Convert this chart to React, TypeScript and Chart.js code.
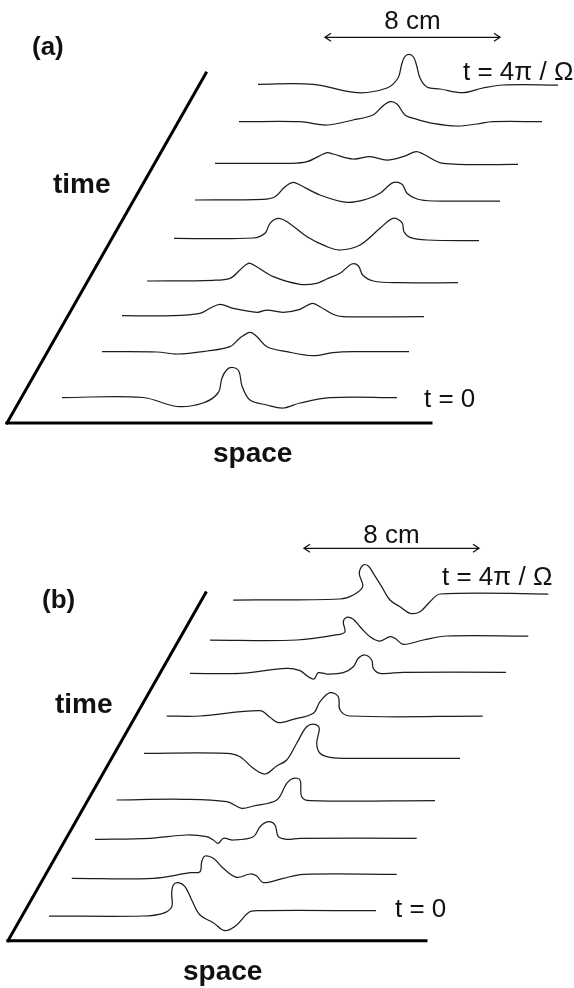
import React, { useEffect, useRef } from "react";
import { Chart, registerables } from "chart.js";

Chart.register(...registerables);

type P = [number, number];

// ---------- Panel (a): wave profiles, [space, height] (height axis points down), t = 0 at bottom ----------
const aProfile1: P[] = [[62, 397.5], [143, 397.5], [177, 406.5], [203, 403], [218, 393], [222, 378], [227, 369.5], [233, 367.5], [239, 371.5], [242, 386], [250, 400], [267, 405], [283, 408], [300, 403], [330, 397.7], [397, 397.7]];
const aProfile2: P[] = [[102, 351.7], [157, 352], [177, 354], [207, 351], [230, 346.7], [240, 338], [250, 332.3], [257, 336.7], [267, 346.7], [287, 351.7], [313, 355.7], [333, 352.7], [353, 351.7], [409, 351.7]];
const aProfile3: P[] = [[122, 315.7], [173, 315.7], [200, 313.3], [210, 308.3], [220, 304.3], [233, 308.3], [257, 312.3], [267, 310], [283, 312.3], [300, 309.3], [312, 303.3], [320, 306.7], [333, 314.3], [343, 316.7], [424, 316.7]];
const aProfile4: P[] = [[147, 281], [213, 280.3], [230, 278.3], [240, 270], [248.3, 263.3], [255, 265.7], [273.3, 276.7], [300, 284.3], [316.7, 283.3], [326.7, 279], [340, 273.3], [351.7, 264], [358.3, 265.7], [362.7, 275], [373.3, 281], [400, 282.7], [458, 282.7]];
const aProfile5: P[] = [[174, 238.3], [253, 238], [265, 233.3], [270, 223.3], [278, 218.3], [287, 221.7], [307, 236.7], [327, 246.7], [340, 250], [360, 245], [380, 228.3], [393, 218.3], [402, 222.7], [404, 231.7], [410, 237.3], [427, 240], [479, 240.7]];
const aProfile6: P[] = [[195, 200], [263, 199.3], [275, 196.7], [285, 186.7], [293, 182.3], [300, 185], [320, 195], [347, 202.3], [367, 199], [380, 193.3], [393, 182.7], [402, 184.3], [407, 193.3], [417, 199], [433, 201], [500, 201]];
const aProfile7: P[] = [[215, 163.3], [290, 163.3], [307, 161.7], [327, 152.7], [333, 154], [353, 159], [370, 156.7], [387, 160], [403, 156.7], [416, 151.7], [423, 154], [443, 163.3], [518, 164.3]];
const aProfile8: P[] = [[239, 121.7], [300, 121.7], [327, 125], [353, 120], [373, 115], [382, 106.7], [390, 101.7], [397, 104], [405, 115], [417, 119.3], [433, 123.3], [457, 126], [477, 124], [493, 121.7], [542, 121.7]];
const aProfile9: P[] = [[258, 84.3], [313, 84.3], [357, 92.7], [387, 88], [398, 78], [401.5, 65], [404.5, 57], [409, 54.3], [413.5, 57], [416.5, 65], [420, 78], [427, 87], [440, 89], [463, 92.7], [483, 88], [503, 85], [558, 85]];

// ---------- Panel (b) ----------
const bProfile1: P[] = [[49, 916], [143, 916], [163, 913.3], [171.7, 906.7], [171.7, 893.3], [173.3, 885], [178.3, 882.7], [185, 886.7], [191.7, 900], [200, 915], [213.3, 922.7], [225, 930.7], [236.7, 925], [248.3, 912.7], [256.7, 910.7], [376, 910.7]];
const bProfile2: P[] = [[71.7, 878.3], [153.3, 878.3], [190, 872.7], [200, 871.7], [201.7, 861.7], [205, 856], [213.3, 858.3], [223.3, 868.3], [236.7, 877.3], [250, 874], [256.7, 876], [263.3, 882.7], [283.3, 878.3], [303.3, 874.3], [396.7, 874.3]];
const bProfile3: P[] = [[95, 839.3], [150, 838.3], [186.7, 835], [206.7, 836.7], [213.3, 840], [218.3, 843.3], [223.3, 838.3], [233.3, 840], [253.3, 836.7], [260, 826.7], [268.3, 821.7], [275, 825], [278.3, 836.7], [286.7, 839.3], [300, 838.3], [416.7, 838.3]];
const bProfile4: P[] = [[116.7, 800], [183.3, 799.3], [226.7, 801.7], [241.7, 808.3], [253.3, 806], [276.7, 800], [286.7, 783.3], [293.3, 778.3], [300, 780], [301.7, 796.7], [310, 800.7], [435, 800.7]];
const bProfile5: P[] = [[144, 753.3], [226.7, 753.3], [240, 756.7], [253.3, 768.3], [265, 774], [276.7, 766], [286.7, 760], [296.7, 743.3], [306.7, 726.7], [315, 724.3], [319.3, 728.3], [316.7, 743.3], [320, 753.3], [330, 757.3], [353.3, 758.3], [460, 758.3]];
const bProfile6: P[] = [[166.7, 716], [200, 716], [260, 710.7], [270, 717.3], [278.3, 722.7], [293.3, 719.3], [313.3, 713.3], [320, 701.7], [330, 692.7], [338.3, 696.7], [340, 710], [350, 716], [482.7, 716]];
const bProfile7: P[] = [[190, 673.3], [240, 673.3], [286.7, 668.3], [300, 670.7], [308.3, 676.7], [314, 679], [318.3, 672.7], [326.7, 674], [343.3, 672.7], [353.3, 666.7], [358.3, 658.3], [365, 655], [371.7, 660], [373.3, 668.3], [380, 673.3], [403.3, 672.3], [506, 672.3]];
const bProfile8: P[] = [[210, 640], [296.7, 640], [340, 634.3], [345, 631.7], [343.3, 621.7], [346.7, 617.3], [353.3, 619.3], [360, 626.7], [370, 636.7], [380, 641], [390, 636.7], [395, 638.3], [403.3, 644.3], [423.3, 640], [446.7, 636], [528.3, 636]];
const bProfile9: P[] = [[233.3, 600], [340, 599], [353.3, 595], [362.7, 586.7], [359.3, 573.3], [363.3, 565], [368.3, 566], [373.3, 573.3], [381.7, 586.7], [390, 600], [400, 606.7], [410, 613.3], [420, 611.7], [430, 601.7], [440, 594], [548.3, 594]];

// ---------- Axes and scale bars ----------
const aTimeAxis: P[] = [[7, 423], [206, 73]];
const aSpaceAxis: P[] = [[7, 423], [431, 423]];
const bTimeAxis: P[] = [[8, 940.7], [205.7, 592.7]];
const bSpaceAxis: P[] = [[8, 940.7], [426, 940.7]];
const aScaleBar: P[] = [[325, 37.3], [500, 37.3]];
const bScaleBar: P[] = [[304, 548.3], [479, 548.3]];
const ARROW_HEAD: P = [6, 4];

// ---------- Text ----------
type Label = { text: string; at: P; font: string; align: CanvasTextAlign };
const BOLD = "bold 28px 'Liberation Sans', Arial, sans-serif";
const PANEL = "bold 26px 'Liberation Sans', Arial, sans-serif";
const REG = "26px 'Liberation Sans', Arial, sans-serif";
const labels: Label[] = [
  { text: "(a)", at: [32, 55], font: PANEL, align: "left" },
  { text: "time", at: [53, 193], font: BOLD, align: "left" },
  { text: "space", at: [213, 462], font: BOLD, align: "left" },
  { text: "8 cm", at: [412.5, 29], font: REG, align: "center" },
  { text: "t = 4\u03c0 / \u03a9", at: [463, 80], font: REG, align: "left" },
  { text: "t = 0", at: [424, 407], font: REG, align: "left" },
  { text: "(b)", at: [42, 608], font: PANEL, align: "left" },
  { text: "time", at: [55, 713], font: BOLD, align: "left" },
  { text: "space", at: [183, 980], font: BOLD, align: "left" },
  { text: "8 cm", at: [391.5, 543], font: REG, align: "center" },
  { text: "t = 4\u03c0 / \u03a9", at: [442, 585], font: REG, align: "left" },
  { text: "t = 0", at: [395, 916.7], font: REG, align: "left" },
];

const profiles: P[][] = [
  aProfile1, aProfile2, aProfile3, aProfile4, aProfile5, aProfile6, aProfile7, aProfile8, aProfile9,
  bProfile1, bProfile2, bProfile3, bProfile4, bProfile5, bProfile6, bProfile7, bProfile8, bProfile9,
];
const axes: P[][] = [aTimeAxis, aSpaceAxis, bTimeAxis, bSpaceAxis];
const bars: P[][] = [aScaleBar, bScaleBar];

const toXY = (pts: P[]) => pts.map(([x, y]) => ({ x, y }));

const textPlugin = {
  id: "figureText",
  afterDraw(chart: any) {
    const { ctx, scales } = chart;
    ctx.save();
    ctx.fillStyle = "#111";
    ctx.textBaseline = "alphabetic";
    for (const l of labels) {
      ctx.font = l.font;
      ctx.textAlign = l.align;
      ctx.fillText(l.text, scales.x.getPixelForValue(l.at[0]), scales.y.getPixelForValue(l.at[1]));
    }
    ctx.restore();
  },
};

export default function App() {
  const ref = useRef<HTMLCanvasElement>(null);
  useEffect(() => {
    if (!ref.current) return;
    const datasets: any[] = [];
    profiles.forEach((p) =>
      datasets.push({ data: toXY(p), showLine: true, borderColor: "#1c1c1c", borderWidth: 1.25, pointRadius: 0, tension: 0.35, fill: false })
    );
    axes.forEach((p) =>
      datasets.push({ data: toXY(p), showLine: true, borderColor: "#000", borderWidth: 3, pointRadius: 0, tension: 0, borderCapStyle: "square" })
    );
    bars.forEach((p) => {
      const [l, r] = [p[0], p[1]];
      datasets.push({ data: toXY(p), showLine: true, borderColor: "#111", borderWidth: 1.3, pointRadius: 0, tension: 0 });
      datasets.push({ data: toXY([[l[0] + ARROW_HEAD[0], l[1] - ARROW_HEAD[1]], l, [l[0] + ARROW_HEAD[0], l[1] + ARROW_HEAD[1]]]), showLine: true, borderColor: "#111", borderWidth: 1.3, pointRadius: 0, tension: 0 });
      datasets.push({ data: toXY([[r[0] - ARROW_HEAD[0], r[1] - ARROW_HEAD[1]], r, [r[0] - ARROW_HEAD[0], r[1] + ARROW_HEAD[1]]]), showLine: true, borderColor: "#111", borderWidth: 1.3, pointRadius: 0, tension: 0 });
    });
    const chart = new Chart(ref.current, {
      type: "scatter",
      data: { datasets },
      options: {
        animation: false,
        responsive: false,
        maintainAspectRatio: false,
        devicePixelRatio: 1,
        layout: { padding: 0 },
        plugins: { legend: { display: false }, tooltip: { enabled: false } },
        events: [],
        scales: {
          x: { type: "linear", min: 0, max: 574, display: false },
          y: { type: "linear", min: 0, max: 988, reverse: true, display: false },
        },
      },
      plugins: [textPlugin],
    });
    return () => chart.destroy();
  }, []);
  return (
    <div style={{ position: "absolute", left: 0, top: 0, width: 574, height: 988, background: "#fff" }}>
      <canvas ref={ref} width={574} height={988} style={{ display: "block", width: 574, height: 988 }} />
    </div>
  );
}
